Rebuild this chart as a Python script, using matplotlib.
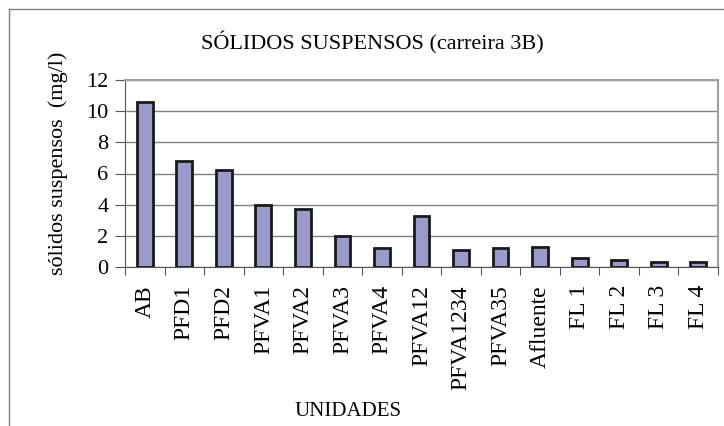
import matplotlib.pyplot as plt
from matplotlib.lines import Line2D

plt.rcParams['font.family'] = ['Liberation Serif', 'DejaVu Serif']

unidades = ["AB", "PFD1", "PFD2", "PFVA1", "PFVA2", "PFVA3", "PFVA4", "PFVA12",
            "PFVA1234", "PFVA35", "Afluente", "FL 1", "FL 2", "FL 3", "FL 4"]
solidos = [10.6, 6.8, 6.2, 4.0, 3.7, 2.0, 1.2, 3.3, 1.07, 1.2, 1.3, 0.6, 0.45, 0.32, 0.32]

W, H = 724, 426
fig = plt.figure(figsize=(W / 100, H / 100), dpi=100)
ax = fig.add_axes([125 / W, 1 - 267 / H, (718 - 125) / W, (267 - 80) / H])

x = range(len(unidades))
ax.bar(x, solidos, width=0.4, color="#9999cc", edgecolor="#1a1a1a", linewidth=2, zorder=3)

ax.set_xlim(-0.5, len(unidades) - 0.5)
ax.set_ylim(0, 12)
ax.set_yticks(range(0, 13, 2))
# ticks between categories, labels centred under bars
ax.set_xticks([i + 0.5 for i in range(-1, len(unidades))])
ax.set_xticklabels([])
ax.set_xticks(list(x), minor=True)
ax.set_xticklabels(unidades, minor=True, rotation=90, fontsize=17)
ax.tick_params(axis="x", which="minor", length=0, pad=13)
ax.tick_params(axis="x", which="major", length=6, width=0.8, color="#555555", direction="out")
ax.tick_params(axis="y", length=7, width=0.8, color="#555555", labelsize=16, pad=5)
ax.yaxis.grid(True, color="#808080", linewidth=1, zorder=0)

for side in ["top", "right"]:
    ax.spines[side].set_color("#a0a0a0")
    ax.spines[side].set_linewidth(1.5)
ax.spines["left"].set_color("#555555")
ax.spines["bottom"].set_color("#555555")

fig.text(58 / W, 1 - 163 / H, "sólidos suspensos  (mg/l)", rotation=90,
         ha="center", va="center", fontsize=16)
fig.text(372 / W, 1 - 43 / H, "SÓLIDOS SUSPENSOS (carreira 3B)", ha="center", va="center", fontsize=16)
fig.text(348 / W, 1 - 411 / H, "UNIDADES", ha="center", va="center", fontsize=15)

# outer chart frame
fig.add_artist(Line2D([9 / W, 1], [1 - 9 / H, 1 - 9 / H], color="#808080", linewidth=1))
fig.add_artist(Line2D([9 / W, 9 / W], [0, 1 - 9 / H], color="#808080", linewidth=1))

fig.savefig("out.png", dpi=100)
